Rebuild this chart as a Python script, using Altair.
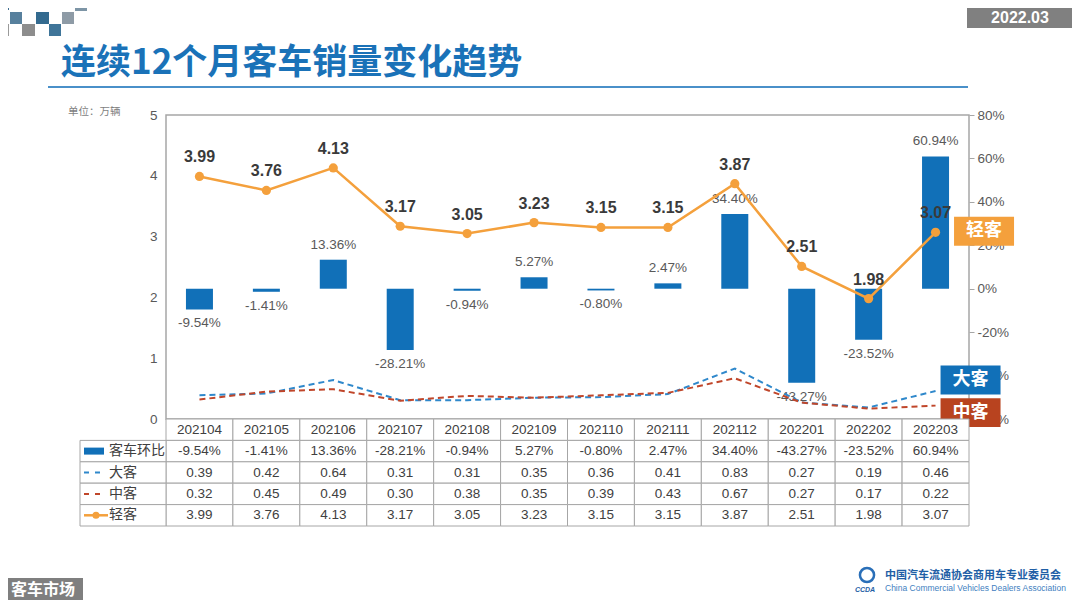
import altair as alt
import pandas as pd

# ---------------- data ----------------
months = ["202104", "202105", "202106", "202107", "202108", "202109",
          "202110", "202111", "202112", "202201", "202202", "202203"]
bus_mom = [-9.54, -1.41, 13.36, -28.21, -0.94, 5.27, -0.80, 2.47, 34.40, -43.27, -23.52, 60.94]
large_bus = [0.39, 0.42, 0.64, 0.31, 0.31, 0.35, 0.36, 0.41, 0.83, 0.27, 0.19, 0.46]
medium_bus = [0.32, 0.45, 0.49, 0.30, 0.38, 0.35, 0.39, 0.43, 0.67, 0.27, 0.17, 0.22]
light_bus = [3.99, 3.76, 4.13, 3.17, 3.05, 3.23, 3.15, 3.15, 3.87, 2.51, 1.98, 3.07]
row_names = ["客车环比", "大客", "中客", "轻客"]
left_ticks = [0, 1, 2, 3, 4, 5]
right_ticks = [-60, -40, -20, 0, 20, 40, 60, 80]

# ---------------- styles ----------------
CJK = "Noto Sans CJK SC"
LAT = "Liberation Sans"
BAR_BLUE = "#1170b8"
DA_BLUE = "#2f88cb"
ZHONG_RED = "#c0462a"
ZHONG_BOX = "#b8431f"
ORANGE = "#f4a03c"
GRID = "#a6a6a6"
TXT = "#404040"

W, H = 803, 304

bar_df = pd.DataFrame({"month": months, "pct": bus_mom,
                       "label": [f"{v:.2f}%" for v in bus_mom]})
lines_df = pd.DataFrame({
    "month": months * 3,
    "series": ["大客"] * 12 + ["中客"] * 12 + ["轻客"] * 12,
    "value": large_bus + medium_bus + light_bus,
})
lines_df["label"] = [f"{v:.2f}" for v in lines_df["value"]]

tab_rows = []
for m in months:
    tab_rows.append({"month": m, "row": "hdr", "text": m})
for m, p, a, b, c in zip(months, bus_mom, large_bus, medium_bus, light_bus):
    tab_rows.append({"month": m, "row": "客车环比", "text": f"{p:.2f}%"})
    tab_rows.append({"month": m, "row": "大客", "text": f"{a:.2f}"})
    tab_rows.append({"month": m, "row": "中客", "text": f"{b:.2f}"})
    tab_rows.append({"month": m, "row": "轻客", "text": f"{c:.2f}"})
tab_df = pd.DataFrame(tab_rows)
legend_df = pd.DataFrame({"row": row_names})

x_enc = alt.X("month:N", sort=months,
              scale=alt.Scale(domain=months, paddingInner=0, paddingOuter=0),
              axis=None)

# ---------------- bars (right axis) ----------------
y_right = alt.Y("pct:Q", title=None,
                scale=alt.Scale(domain=[-60, 80], nice=False),
                axis=alt.Axis(orient="right", values=right_ticks,
                              labelExpr="datum.value + '%'", domain=False,
                              grid=False, ticks=True, tickSize=5, tickColor=GRID,
                              labelFont=LAT, labelFontSize=13.5,
                              labelColor="#595959", labelPadding=3))
bars_base = alt.Chart(bar_df)
bars = bars_base.mark_bar(size=27, color=BAR_BLUE).encode(x=x_enc, y=y_right)
lab_pos = bars_base.transform_filter("datum.pct >= 0").mark_text(
    baseline="bottom", dy=-8, font=LAT, fontSize=13.5, color="#595959"
).encode(x=x_enc, y=y_right, text="label:N")
lab_neg = bars_base.transform_filter("datum.pct < 0").mark_text(
    baseline="top", dy=7, font=LAT, fontSize=13.5, color="#595959"
).encode(x=x_enc, y=y_right, text="label:N")
bars_group = alt.layer(bars, lab_pos, lab_neg)

# ---------------- lines (left axis) ----------------
y_left = alt.Y("value:Q", title=None,
               scale=alt.Scale(domain=[0, 5], nice=False),
               axis=alt.Axis(orient="left", values=left_ticks, domain=False,
                             grid=False, ticks=False, labelFont=LAT,
                             labelFontSize=13.5, labelColor="#595959",
                             labelPadding=9))
lbase = alt.Chart(lines_df)
dashed = lbase.transform_filter("datum.series != '轻客'").mark_line(
    strokeWidth=2, strokeDash=[6, 4]
).encode(x=x_enc, y=y_left,
         color=alt.Color("series:N", legend=None,
                         scale=alt.Scale(domain=["大客", "中客"],
                                         range=[DA_BLUE, ZHONG_RED])))
light = lbase.transform_filter("datum.series == '轻客'")
light_line = light.mark_line(strokeWidth=2.5, color=ORANGE).encode(x=x_enc, y=y_left)
light_pts = light.mark_circle(size=85, color=ORANGE, opacity=1).encode(x=x_enc, y=y_left)
light_lab = light.mark_text(baseline="bottom", dy=-11, font=LAT, fontSize=16,
                            fontWeight="bold", color="#3a3a3a").encode(
    x=x_enc, y=y_left, text="label:N")

BOX = "M-1,-0.483L1,-0.483L1,0.483L-1,0.483Z"


def end_label(series, color, xo, yo):
    d = lbase.transform_filter(
        f"datum.series == '{series}' && datum.month == '{months[-1]}'")
    box = d.mark_point(shape=BOX, size=3600, filled=True, opacity=1,
                       color=color, strokeWidth=0,
                       xOffset=xo, yOffset=yo).encode(x=x_enc, y=y_left)
    txt = d.mark_text(dx=xo, dy=yo, font=CJK, fontSize=18, fontWeight="bold",
                      color="white").encode(x=x_enc, y=y_left,
                                            text="series:N")
    return [box, txt]


lines_group = alt.layer(
    dashed, light_line, light_pts, light_lab,
    *end_label("轻客", ORANGE, 48.5, -1),
    *end_label("大客", BAR_BLUE, 35, -11),
    *end_label("中客", ZHONG_BOX, 35, 7),
)

# ---------------- data table ----------------
y_tab = alt.Y("row:N", title=None,
              scale=alt.Scale(domain=["hdr"] + row_names, range=[304, 411],
                              paddingInner=0, paddingOuter=0),
              axis=None)
y_tab_c = alt.Y("row:N", title=None, bandPosition=0.5,
                scale=alt.Scale(domain=["hdr"] + row_names, range=[304, 411],
                                paddingInner=0, paddingOuter=0),
                axis=None)
tbase = alt.Chart(tab_df)
cells = tbase.mark_rect(fill="white", stroke=GRID, strokeWidth=1).encode(x=x_enc, y=y_tab)
cell_txt = tbase.mark_text(font=LAT, fontSize=13.5, color=TXT).encode(
    x=x_enc, y=y_tab_c, text="text:N")
lg = alt.Chart(legend_df)
lg_cells = lg.mark_rect(fill="white", stroke=GRID, strokeWidth=1).encode(
    x=alt.value(-86), x2=alt.value(0), y=y_tab)
lg_txt = lg.mark_text(align="left", font=CJK, fontSize=14, color=TXT).encode(
    x=alt.value(-57), y=y_tab_c, text="row:N")
sym_bar = lg.transform_filter("datum.row == '客车环比'").mark_rule(
    strokeWidth=7, color=BAR_BLUE).encode(x=alt.value(-82), x2=alt.value(-62), y=y_tab_c)
sym_da = lg.transform_filter("datum.row == '大客'").mark_rule(
    strokeWidth=2, color=DA_BLUE, strokeDash=[5, 6]).encode(
    x=alt.value(-82), x2=alt.value(-61), y=y_tab_c)
sym_zh = lg.transform_filter("datum.row == '中客'").mark_rule(
    strokeWidth=2, color=ZHONG_RED, strokeDash=[5, 6]).encode(
    x=alt.value(-82), x2=alt.value(-61), y=y_tab_c)
sym_lt = lg.transform_filter("datum.row == '轻客'").mark_rule(
    strokeWidth=2.5, color=ORANGE).encode(x=alt.value(-82), x2=alt.value(-58), y=y_tab_c)
sym_lt_pt = lg.transform_filter("datum.row == '轻客'").mark_circle(
    size=50, color=ORANGE, opacity=1).encode(x=alt.value(-70), y=y_tab_c)
table_group = alt.layer(cells, cell_txt, lg_cells, lg_txt,
                        sym_bar, sym_da, sym_zh, sym_lt, sym_lt_pt)


# ---------------- page decorations ----------------
def one():
    return alt.Chart(alt.Data(values=[{"k": 0}]))


def deco_rect(x1, y1, x2, y2, color):
    return one().mark_rect(color=color).encode(
        x=alt.value(x1 - 166), x2=alt.value(x2 - 166),
        y=alt.value(y1 - 115), y2=alt.value(y2 - 115))


def deco_text(text, x, y, **kw):
    return one().mark_text(text=text, **kw).encode(
        x=alt.value(x - 166), y=alt.value(y - 115))


squares = [
    (0, 0, 9, 10, "#3f6d8f"), (75, 0, 87, 11, "#7d95a6"),
    (10, 12, 22, 24, "#57809d"), (36, 12, 49, 24, "#336a8f"), (62, 12, 74, 24, "#8e9ba6"),
    (0, 24, 9, 36, "#9a9a9a"), (22, 24, 35, 36, "#8d8d8d"), (49, 24, 61, 36, "#3f7599"),
]
deco = [deco_rect(*s) for s in squares]
deco += [
    deco_rect(967, 0, 1072, 28, "#808080"),
    deco_text("2022.03", 1020, 17.5, font=LAT, fontSize=16, fontWeight="bold",
              color="white", align="center", baseline="middle"),
    deco_text("连续12个月客车销量变化趋势", 61, 63, font=CJK, fontSize=35,
              fontWeight="bold", color="#1a72b8", align="left", baseline="middle"),
    one().mark_rule(color="#4a90c9", strokeWidth=2).encode(
        x=alt.value(48 - 166), x2=alt.value(968 - 166), y=alt.value(87 - 115)),
    deco_text("单位：万辆", 68, 112, font=CJK, fontSize=10.5, color="#7f7f7f",
              align="left", baseline="middle"),
    deco_rect(0, 578, 83, 608, "#7f7f7f"),
    deco_text("客车市场", 43, 590, font=CJK, fontSize=16, fontWeight="bold",
              color="white", align="center", baseline="middle"),
    deco_text("中国汽车流通协会商用车专业委员会", 885, 576, font=CJK, fontSize=11,
              fontWeight="bold", color="#1f5fa6", align="left", baseline="middle"),
    deco_text("China Commercial Vehicles Dealers Association", 885, 587.5, font=LAT,
              fontSize=8.5, color="#3f7fbf", align="left", baseline="middle"),
    deco_text("CCDA", 865, 590, font=LAT, fontSize=7, fontWeight="bold",
              fontStyle="italic", color="#1f5fa6", align="center", baseline="middle"),
    one().mark_point(shape="circle", size=200, color="#2a6fb8", strokeWidth=2.5,
                     opacity=1).encode(x=alt.value(867 - 166), y=alt.value(575 - 115)),
]

chart = alt.layer(*deco, bars_group, lines_group, table_group).resolve_scale(
    y="independent"
).properties(
    width=W, height=H, autosize="none",
    padding={"left": 158, "top": 107, "right": 103, "bottom": 181},
    background="white",
).configure_view(stroke=GRID, strokeWidth=1.5)

chart.save("out.html", embed_options={"renderer": "svg", "actions": False})
